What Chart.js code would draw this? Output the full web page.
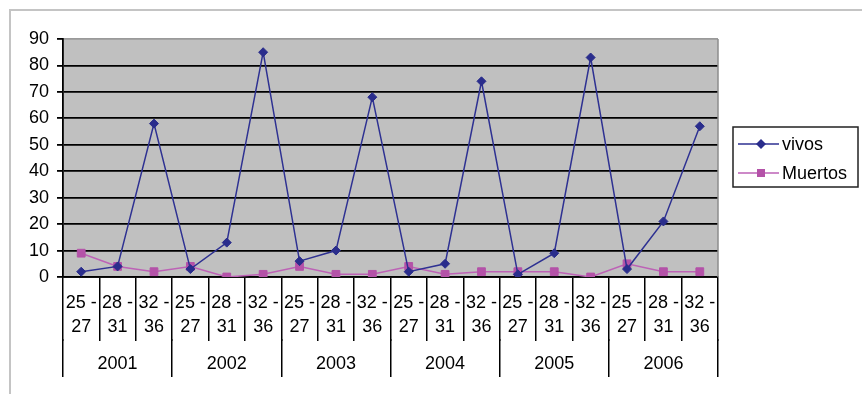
<!DOCTYPE html>
<html>
<head>
<meta charset="utf-8">
<title>vivos / Muertos</title>
<script src="https://cdn.jsdelivr.net/npm/chart.js@4/dist/chart.umd.min.js"></script>
<style>
    html, body { margin: 0; padding: 0; background: #ffffff; }
    #wrap { width: 862px; height: 394px; }
</style>
</head>
<body>
<div id="wrap">
    <canvas id="grafica" width="862" height="394"></canvas>
</div>

<script>

// ============================================
// DATOS
// ============================================

const years = ['2001', '2002', '2003', '2004', '2005', '2006'];

const weekRanges = [
    ['25 -', '27'],
    ['28 -', '31'],
    ['32 -', '36']
];

const vivos = [
    2, 4, 58,
    3, 13, 85,
    6, 10, 68,
    2, 5, 74,
    1, 9, 83,
    3, 21, 57
];

const muertos = [
    9, 4, 2,
    4, 0, 1,
    4, 1, 1,
    4, 1, 2,
    2, 2, 0,
    5, 2, 2
];

const yMin = 0;
const yMax = 90;
const yStep = 10;


// una etiqueta de semanas por cada año
const weekLabels =
    years.flatMap(
        () => weekRanges
    );


const FONT = "Arial, 'Liberation Sans', sans-serif";

const COLOR_VIVOS = '#2e3192';
const COLOR_MUERTOS = '#b452a8';



// ============================================
// FONDO, MARCO Y LEYENDA
// ============================================

const excelLook = {

    id: 'excelLook',

    beforeDraw(chart) {

        const { ctx, chartArea: a } = chart;

        ctx.save();

        // marco exterior
        ctx.strokeStyle = '#c4c4c4';
        ctx.lineWidth = 2;
        ctx.strokeRect(10, 10, 1000, 1000);

        // area de trazado gris
        ctx.fillStyle = '#c0c0c0';
        ctx.fillRect(a.left, a.top, a.right - a.left, a.bottom - a.top);

        ctx.restore();
    },

    beforeDatasetsDraw(chart) {

        const { ctx, chartArea: a } = chart;

        ctx.save();
        ctx.strokeStyle = '#8c8c8c';
        ctx.lineWidth = 1.5;
        ctx.beginPath();
        ctx.moveTo(a.right, a.top);
        ctx.lineTo(a.right, a.bottom);
        ctx.stroke();
        ctx.restore();
    },

    afterDraw(chart) {

        const { ctx, chartArea: a } = chart;

        const boxX = a.right + 15;
        const boxW = 125;
        const boxH = 60;
        const boxY = (a.top + a.bottom) / 2 - boxH / 2 - 1;

        ctx.save();

        ctx.fillStyle = '#ffffff';
        ctx.fillRect(boxX, boxY, boxW, boxH);
        ctx.strokeStyle = '#222222';
        ctx.lineWidth = 1.5;
        ctx.strokeRect(boxX, boxY, boxW, boxH);

        chart.data.datasets.forEach((ds, i) => {

            const y = boxY + 17 + i * 29;
            const mx = boxX + 28;

            ctx.strokeStyle = ds.borderColor;
            ctx.lineWidth = 1.5;
            ctx.beginPath();
            ctx.moveTo(boxX + 5, y);
            ctx.lineTo(boxX + 46, y);
            ctx.stroke();

            ctx.fillStyle = ds.pointBackgroundColor;
            ctx.beginPath();

            if (ds.pointStyle === 'rectRot') {
                ctx.moveTo(mx - 5, y);
                ctx.lineTo(mx, y - 5);
                ctx.lineTo(mx + 5, y);
                ctx.lineTo(mx, y + 5);
                ctx.closePath();
            } else {
                ctx.rect(mx - 4, y - 4, 8, 8);
            }

            ctx.fill();

            ctx.fillStyle = '#000000';
            ctx.font = '18px ' + FONT;
            ctx.textBaseline = 'middle';
            ctx.textAlign = 'left';
            ctx.fillText(ds.label, boxX + 49, y + 1);
        });

        ctx.restore();
    }
};



// ============================================
// GRAFICA
// ============================================

const ctx =
    document
    .getElementById('grafica')
    .getContext('2d');


new Chart(ctx, {

    type: 'line',

    data: {

        labels: weekLabels,

        datasets: [

            {
                label: 'vivos',
                data: vivos,
                borderColor: COLOR_VIVOS,
                backgroundColor: COLOR_VIVOS,
                pointBackgroundColor: '#2a2d8c',
                pointBorderColor: '#2a2d8c',
                borderWidth: 1.5,
                pointStyle: 'rectRot',
                pointRadius: 4.5,
                pointBorderWidth: 1,
                tension: 0,
                xAxisID: 'x'
            },

            {
                label: 'Muertos',
                data: muertos,
                borderColor: '#bd62b6',
                backgroundColor: COLOR_MUERTOS,
                pointBackgroundColor: COLOR_MUERTOS,
                pointBorderColor: COLOR_MUERTOS,
                borderWidth: 1.5,
                pointStyle: 'rect',
                pointRadius: 5.5,
                pointBorderWidth: 1,
                tension: 0,
                xAxisID: 'x'
            }
        ]
    },

    options: {

        responsive: false,
        animation: false,

        layout: {
            padding: { left: 21, right: 144, top: 39, bottom: 17.5 }
        },

        plugins: {
            legend: { display: false },
            tooltip: { enabled: false }
        },

        scales: {

            y: {
                min: yMin,
                max: yMax,
                ticks: {
                    stepSize: yStep,
                    color: '#000000',
                    padding: 8,
                    font: { family: FONT, size: 18 }
                },
                grid: {
                    color: c => c.tick && c.tick.value === yMax ? '#9a9a9a' : '#000000',
                    tickColor: '#000000',
                    lineWidth: 1.8,
                    tickLength: 6
                },
                border: { color: '#000000', width: 1.8 }
            },

            x: {
                type: 'category',
                position: 'bottom',
                weight: 0,
                offset: true,
                afterFit: s => { s.height = 62; },
                ticks: {
                    autoSkip: false,
                    maxRotation: 0,
                    minRotation: 0,
                    color: '#000000',
                    padding: -50,
                    font: { family: FONT, size: 18, lineHeight: 1.33 }
                },
                grid: {
                    offset: true,
                    drawOnChartArea: false,
                    color: '#000000',
                    lineWidth: 1.5,
                    tickLength: 64
                },
                border: { color: '#000000', width: 1.8 }
            },

            x2: {
                type: 'category',
                position: 'bottom',
                weight: 1,
                labels: years,
                offset: true,
                afterFit: s => { s.height = 37.5; },
                ticks: {
                    autoSkip: false,
                    maxRotation: 0,
                    minRotation: 0,
                    color: '#000000',
                    padding: -24.5,
                    font: { family: FONT, size: 18, lineHeight: 1.33 }
                },
                grid: {
                    offset: true,
                    drawOnChartArea: false,
                    color: '#000000',
                    lineWidth: 1.5,
                    tickLength: 38
                },
                border: { display: false }
            }
        }
    },

    plugins: [excelLook]
});

</script>
</body>
</html>
